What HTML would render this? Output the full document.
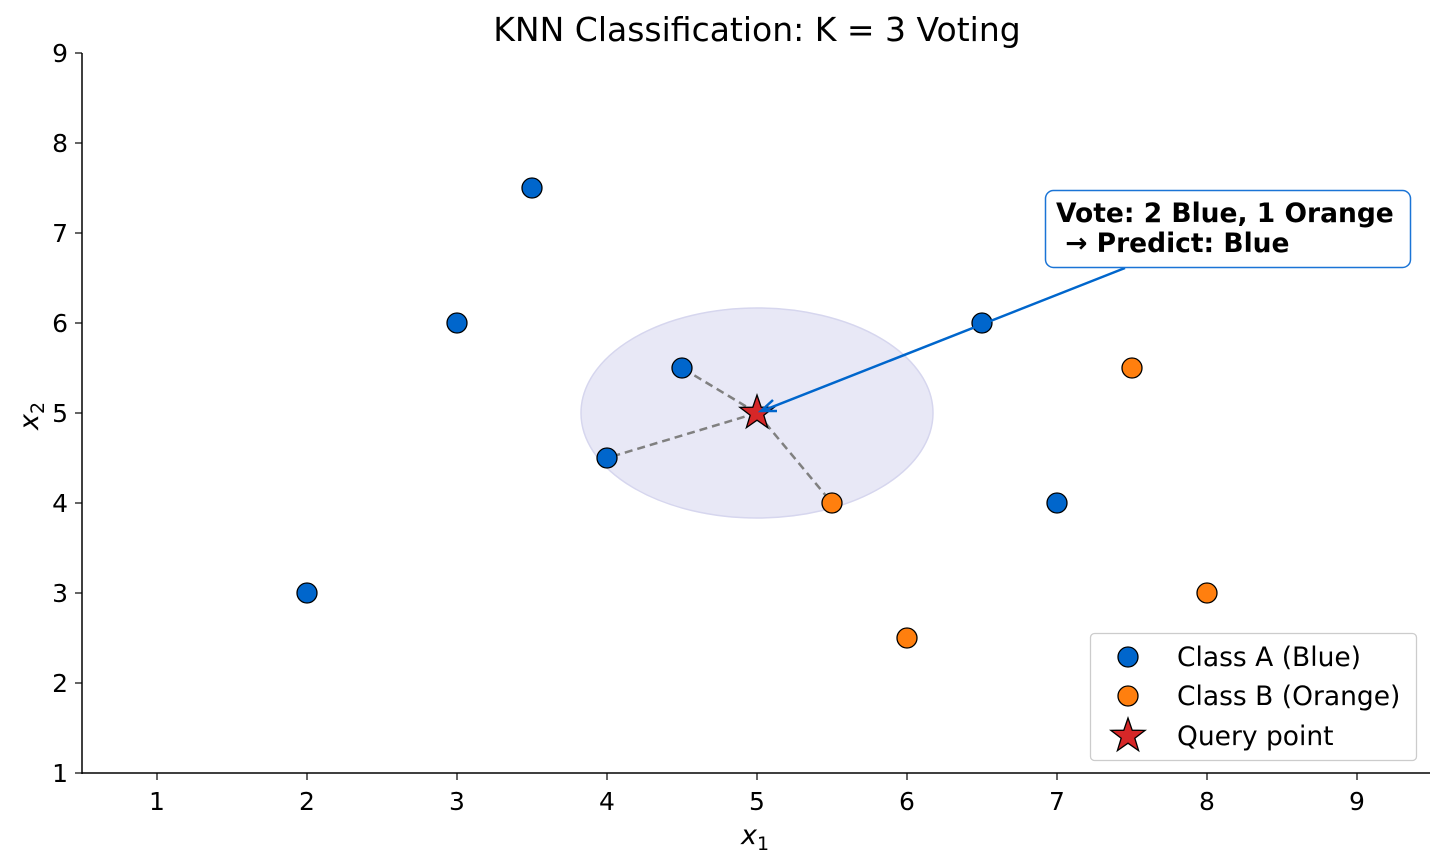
<!DOCTYPE html>
<html><head><meta charset="utf-8"><style>body{margin:0;background:#fff}svg{display:block}text{font-family:"DejaVu Sans","Liberation Sans",sans-serif}</style></head><body>
<svg width="1445" height="866" viewBox="0 0 1445 866" xmlns="http://www.w3.org/2000/svg">
<text x="757" y="41" font-size="33" text-anchor="middle">KNN Classification: K = 3 Voting</text>
<ellipse cx="757" cy="413" rx="176" ry="105" fill="#e6e6f5" fill-opacity="0.9" stroke="#d6d6ee" stroke-width="1.5"/>
<g stroke="#808080" stroke-width="2.5" stroke-dasharray="8,5">
<line x1="757" y1="413" x2="682" y2="368"/><line x1="757" y1="413" x2="607" y2="458"/><line x1="757" y1="413" x2="832" y2="503"/></g>
<g stroke="#000" stroke-width="1.3" fill="#0066cc">
<circle cx="307" cy="593" r="10"/><circle cx="457" cy="323" r="10"/><circle cx="532" cy="188" r="10"/><circle cx="607" cy="458" r="10"/><circle cx="682" cy="368" r="10"/><circle cx="982" cy="323" r="10"/><circle cx="1057" cy="503" r="10"/><circle cx="1207" cy="233" r="10"/></g>
<g stroke="#000" stroke-width="1.3" fill="#ff7f0e">
<circle cx="832" cy="503" r="10"/><circle cx="907" cy="638" r="10"/><circle cx="1132" cy="368" r="10"/><circle cx="1207" cy="593" r="10"/></g>
<polygon transform="translate(757,413)" points="0,-18 4.2,-5.8 17.1,-5.6 6.8,2.2 10.6,14.6 0,7.2 -10.6,14.6 -6.8,2.2 -17.1,-5.6 -4.2,-5.8" fill="#d62728" stroke="#000" stroke-width="1.3"/>
<line x1="1125" y1="268" x2="762" y2="411" stroke="#0066cc" stroke-width="2.5"/>
<polyline points="773,400 761,411 777,411" fill="none" stroke="#0066cc" stroke-width="2.5"/>
<rect x="1045.5" y="190.5" width="365" height="77" rx="8" fill="#fff" stroke="#1a74d6" stroke-width="1.5"/>
<text x="1056" y="222" font-size="26.5" font-weight="bold">Vote: 2 Blue, 1 Orange</text>
<text x="1056" y="252" font-size="26.5" font-weight="bold" xml:space="preserve"> → Predict: Blue</text>
<g stroke="#000" stroke-width="1.5"><line x1="82" y1="53" x2="82" y2="774"/><line x1="82" y1="773" x2="1430" y2="773"/></g>
<g stroke="#000" stroke-width="1.2">
<line x1="157" y1="773" x2="157" y2="780"/><line x1="307" y1="773" x2="307" y2="780"/><line x1="457" y1="773" x2="457" y2="780"/><line x1="607" y1="773" x2="607" y2="780"/><line x1="757" y1="773" x2="757" y2="780"/><line x1="907" y1="773" x2="907" y2="780"/><line x1="1057" y1="773" x2="1057" y2="780"/><line x1="1207" y1="773" x2="1207" y2="780"/><line x1="1357" y1="773" x2="1357" y2="780"/>
<line x1="75" y1="53" x2="82" y2="53"/><line x1="75" y1="143" x2="82" y2="143"/><line x1="75" y1="233" x2="82" y2="233"/><line x1="75" y1="323" x2="82" y2="323"/><line x1="75" y1="413" x2="82" y2="413"/><line x1="75" y1="503" x2="82" y2="503"/><line x1="75" y1="593" x2="82" y2="593"/><line x1="75" y1="683" x2="82" y2="683"/><line x1="75" y1="773" x2="82" y2="773"/></g>
<g font-size="25" text-anchor="middle">
<text x="157" y="810">1</text><text x="307" y="810">2</text><text x="457" y="810">3</text><text x="607" y="810">4</text><text x="757" y="810">5</text><text x="907" y="810">6</text><text x="1057" y="810">7</text><text x="1207" y="810">8</text><text x="1357" y="810">9</text></g>
<g font-size="25" text-anchor="end">
<text x="68" y="62">9</text><text x="68" y="152">8</text><text x="68" y="242">7</text><text x="68" y="332">6</text><text x="68" y="422">5</text><text x="68" y="512">4</text><text x="68" y="602">3</text><text x="68" y="692">2</text><text x="68" y="782">1</text></g>
<text x="741" y="844" font-size="27" font-style="italic">x<tspan font-size="19" dy="6" font-style="normal">1</tspan></text>
<text transform="translate(38,430) rotate(-90)" font-size="27" font-style="italic">x<tspan font-size="19" dy="6" font-style="normal">2</tspan></text>
<rect x="1090.5" y="633.5" width="326" height="127" rx="4" fill="#fff" fill-opacity="0.85" stroke="#ccc" stroke-width="1.3"/>
<circle cx="1128" cy="657" r="10" fill="#0066cc" stroke="#000" stroke-width="1.3"/>
<circle cx="1128" cy="696" r="10" fill="#ff7f0e" stroke="#000" stroke-width="1.3"/>
<polygon transform="translate(1128,736)" points="0,-18 4.2,-5.8 17.1,-5.6 6.8,2.2 10.6,14.6 0,7.2 -10.6,14.6 -6.8,2.2 -17.1,-5.6 -4.2,-5.8" fill="#d62728" stroke="#000" stroke-width="1.3"/>
<g font-size="26.5"><text x="1177" y="666">Class A (Blue)</text><text x="1177" y="705">Class B (Orange)</text><text x="1177" y="745">Query point</text></g>
</svg></body></html>
